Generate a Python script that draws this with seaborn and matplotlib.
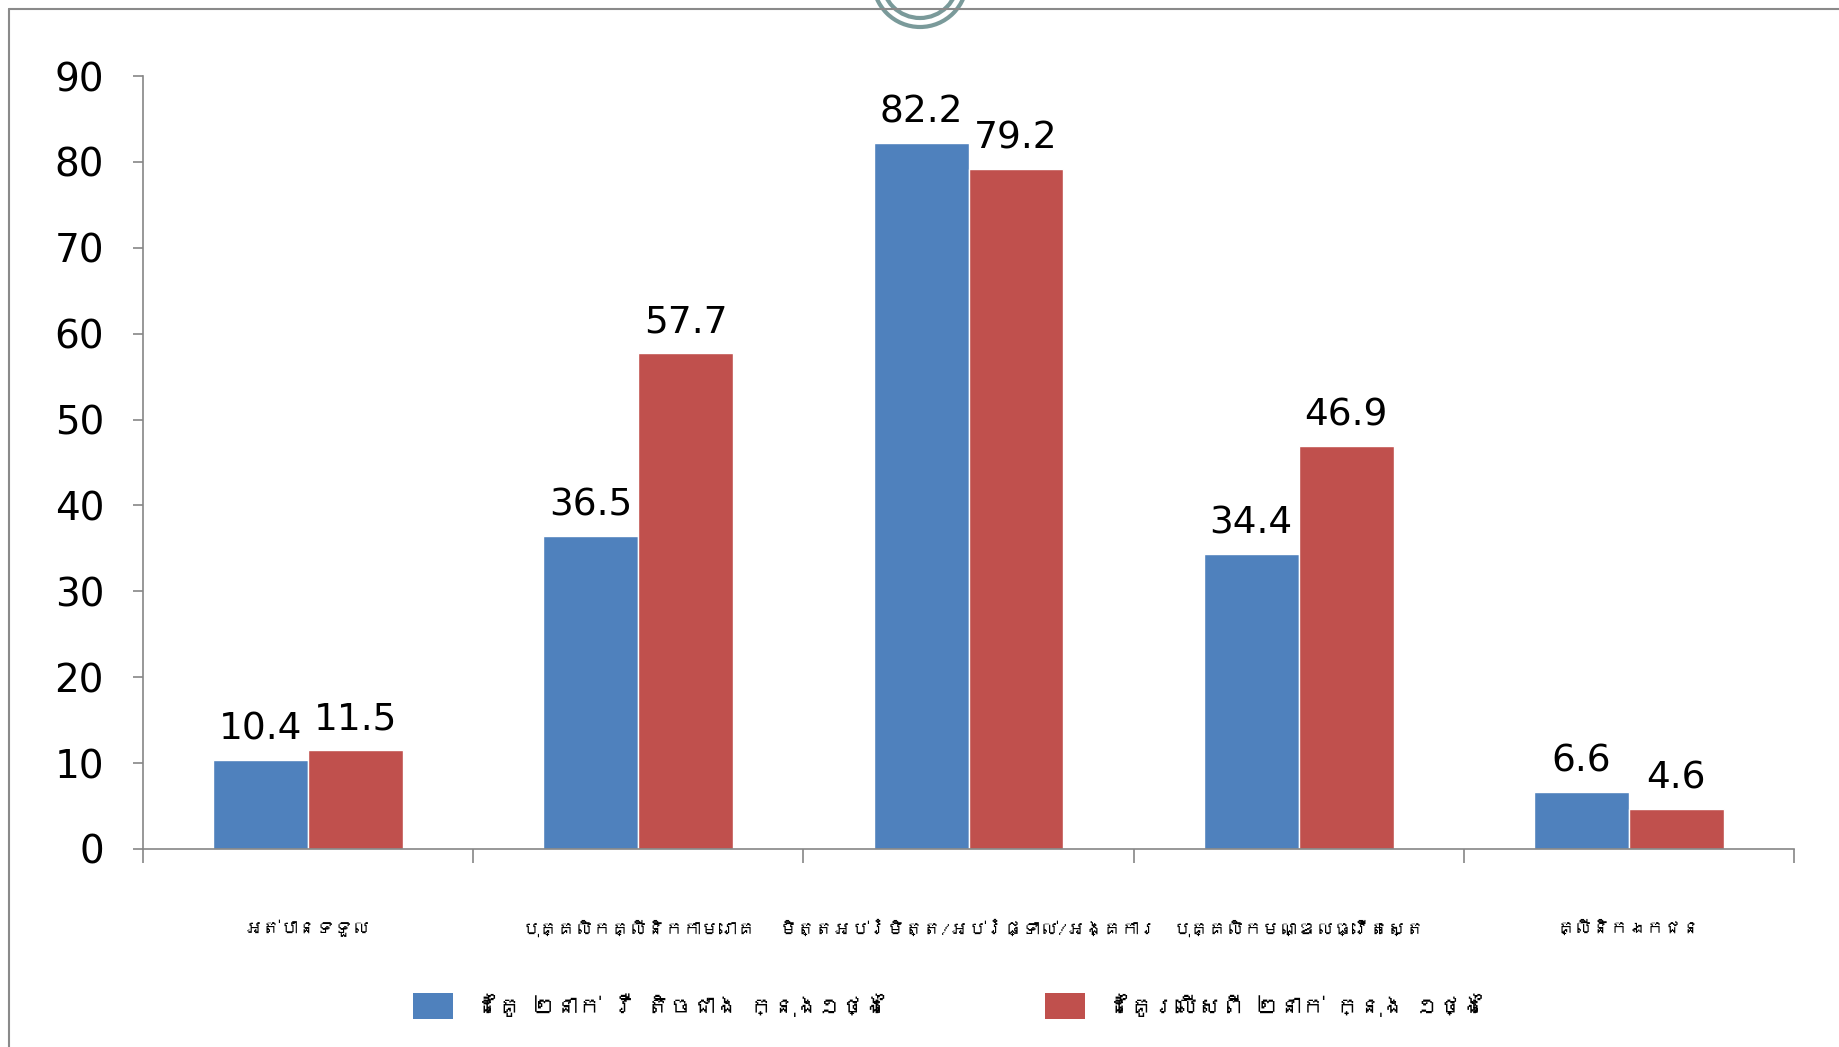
import numpy as np
import pandas as pd
import seaborn as sns
import matplotlib.pyplot as plt
from matplotlib import font_manager as fm
from matplotlib.ft2font import FT2Font
from matplotlib.patches import Circle, Patch

# DATA
categories = ['អត់បានទទួល', 'បុគ្គលិកគ្លីនិកកាមរោគ', 'មិត្តអប់រំមិត្ត/អប់រំផ្ទាល់/អង្គការ',
              'បុគ្គលិកមណ្ឌលធ្វើតេស្ត', 'គ្លីនិកឯកជន']
series_names = ['ដៃគូ ២នាក់ រឺ តិចជាង ក្នុង១ថ្ងៃ', 'ដៃគូរលើសពី ២នាក់ ក្នុង ១ថ្ងៃ']
two_or_less = [10.4, 36.5, 82.2, 34.4, 6.6]
more_than_two = [11.5, 57.7, 79.2, 46.9, 4.6]
colors = ['#4F81BD', '#C0504D']

# find a font that has Khmer glyphs, if any
khmer_font = None
for f in fm.fontManager.ttflist:
    try:
        if 0x1780 in FT2Font(f.fname).get_charmap():
            khmer_font = f.name
            break
    except Exception:
        pass
khmer_family = ([khmer_font] if khmer_font else []) + ['DejaVu Sans']

df = pd.DataFrame({
    'category': categories * 2,
    'series': [series_names[0]] * 5 + [series_names[1]] * 5,
    'value': two_or_less + more_than_two,
})

sns.set_style('white')
plt.rcParams['font.family'] = ['DejaVu Sans']

W, H = 1839, 1047
fig = plt.figure(figsize=(W / 100, H / 100), dpi=100)

# slide decoration (border lines + rings)
deco = fig.add_axes([0, 0, 1, 1], zorder=0)
deco.set_xlim(0, W)
deco.set_ylim(H, 0)
deco.axis('off')
deco.plot([9, W], [9, 9], color='#8a8a8a', lw=1.5)
deco.plot([9, 9], [9, H], color='#8a8a8a', lw=1.5)
for r, lw in [(47, 3), (38, 3)]:
    deco.add_patch(Circle((920, -20), r, fill=False, ec='#7a9a9a', lw=lw))
deco.add_patch(Circle((920, -20), 30, fill=True, fc='white', ec='none'))

ax = fig.add_axes([143 / W, 1 - 849 / H, (1794 - 143) / W, (849 - 76) / H], zorder=1)
ax.patch.set_alpha(0)
sns.barplot(data=df, x='category', y='value', hue='series', palette=colors,
            width=0.575, gap=0, saturation=1, ax=ax, legend=False)

for cont in ax.containers:
    ax.bar_label(cont, fmt='%.1f', padding=9, fontsize=27, color='black')

ax.set_xlim(-0.5, 4.5)
ax.set_ylim(0, 90)
ax.set_yticks(range(0, 91, 10))
ax.set_xlabel('')
ax.set_ylabel('')
for s in ['top', 'right']:
    ax.spines[s].set_visible(False)
for s in ['left', 'bottom']:
    ax.spines[s].set_color('#868686')
    ax.spines[s].set_linewidth(1.2)

ax.tick_params(axis='y', direction='out', length=7, width=1.2, color='#868686',
               labelsize=28, labelcolor='black', pad=21, left=True)
ax.set_xticks(range(5))
ax.set_xticklabels(categories, family=khmer_family, fontsize=13)
ax.tick_params(axis='x', which='major', length=0, pad=51, labelcolor='black')
ax.set_xticks(np.arange(-0.5, 5, 1), minor=True)
ax.tick_params(axis='x', which='minor', direction='out', length=10, width=1.2,
               color='#868686', bottom=True)

# legend: two entries placed like the slide
handles = [Patch(fc=c, ec='none') for c in colors]
for h, name, x0 in zip(handles, series_names, [352 / 1568, 891 / 1568]):
    leg = fig.legend([h], [name], loc='center left', bbox_to_anchor=(x0, 0.039),
                     frameon=False, prop={'family': khmer_family, 'size': 16.5},
                     handlelength=1.75, handleheight=1.4, handletextpad=0.95,
                     borderpad=0, borderaxespad=0, labelcolor='black')

fig.savefig('out.png', dpi=100, facecolor='white')
